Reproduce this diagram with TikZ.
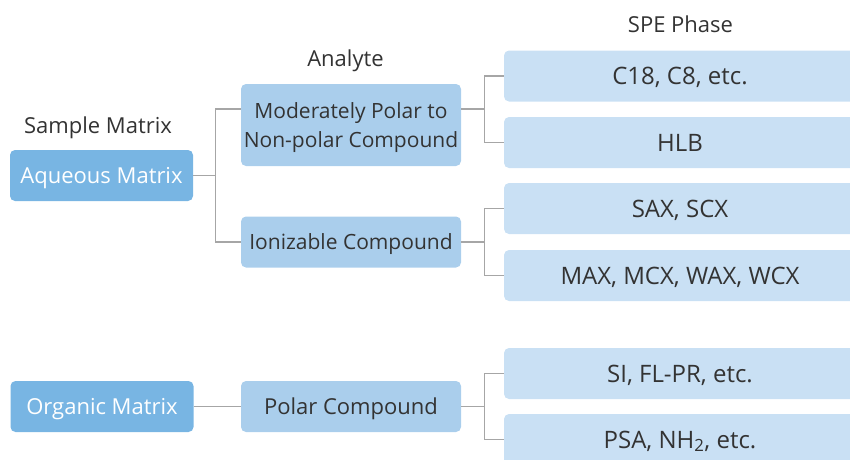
\documentclass[tikz,border=0pt]{standalone}
\usepackage{fontspec}
\setmainfont{Open Sans}
\usetikzlibrary{positioning}
\definecolor{matrixblue}{HTML}{78B5E3}
\definecolor{analyteblue}{HTML}{AACEEC}
\definecolor{phaseblue}{HTML}{C9E0F4}
\definecolor{linegray}{HTML}{A6A6A6}
\definecolor{textgray}{HTML}{333333}

\begin{document}
\begin{tikzpicture}[x=1pt,y=-1pt,font=\fontsize{22}{29}\selectfont]
  \tikzstyle{oneline}=[text height=22pt,text depth=6.4pt]
  \tikzstyle{box}=[rounded corners=5pt,inner sep=0pt,align=center,text=textgray]
  \tikzstyle{matrixbox}=[box,oneline,fill=matrixblue,text=white,minimum width=183pt,minimum height=51pt]
  \tikzstyle{analytebox}=[box,fill=analyteblue,minimum width=220pt,minimum height=51pt]
  \tikzstyle{phasebox}=[box,fill=phaseblue,minimum width=352pt,minimum height=51pt,
                        font=\fontsize{24}{29}\selectfont,text height=24pt,text depth=7pt]
  \tikzstyle{title}=[oneline,inner sep=0pt,text=textgray]
  \tikzstyle{link}=[draw=linegray,line width=1.3pt]

  \useasboundingbox (0,0) rectangle (850,459);

  % column headings
  \node[title] (sample)  at (98,125.5) {Sample Matrix};
  \node[title] (analyte) at (345.5,58.5) {Analyte};
  \node[title] (spe)     at (680.5,24.5) {SPE Phase};

  % sample matrix
  \node[matrixbox] (aqueous) at (101.5,175.5) {Aqueous Matrix};
  \node[matrixbox] (organic) at (102,406.5)   {Organic Matrix};

  % analyte
  \node[analytebox,minimum height=82pt,font=\fontsize{21}{29}\selectfont,text depth=0pt]
    (moderate) at (351,125) {Moderately Polar to\\Non-polar Compound};
  \node[analytebox,font=\fontsize{21}{29}\selectfont,text height=21pt,text depth=6.1pt]
    (ionizable) at (351,242) {Ionizable Compound};
  \node[analytebox,oneline] (polar) at (351,406.5) {Polar Compound};

  % spe phase
  \node[phasebox] (c18) at (680,76)    {C18, C8, etc.};
  \node[phasebox] (hlb) at (680,142.5) {HLB};
  \node[phasebox] (sax) at (680,208.5) {SAX, SCX};
  \node[phasebox] (max) at (680,275.5) {MAX, MCX, WAX, WCX};
  \node[phasebox] (si)  at (680,373.5) {SI, FL-PR, etc.};
  \node[phasebox] (psa) at (680,439.5) {PSA, NH\textsubscript{2}, etc.};

  % connectors
  \draw[link] (aqueous.east) -- ++(22,0) coordinate (aq);
  \draw[link] ([yshift=16pt]moderate.west) -| (aq) |- (ionizable.west);
  \draw[link] (organic) -- (polar);

  \draw[link] ([yshift=16pt]moderate.east) -- ++(23,0) coordinate (mo);
  \draw[link] (c18.west) -| (mo) |- (hlb.west);
  \draw[link] (ionizable.east) -- ++(23,0) coordinate (io);
  \draw[link] (sax.west) -| (io) |- (max.west);
  \draw[link] (polar.east) -- ++(23,0) coordinate (po);
  \draw[link] (si.west) -| (po) |- (psa.west);
\end{tikzpicture}
\end{document}
